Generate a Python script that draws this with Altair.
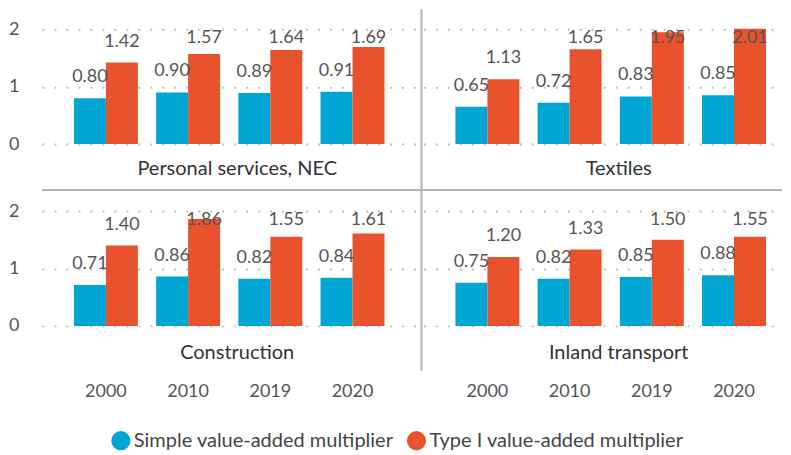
import altair as alt
import pandas as pd

years = ["2000", "2010", "2019", "2020"]
panels = ["Personal services, NEC", "Textiles", "Construction", "Inland transport"]
series = ["Simple value-added multiplier", "Type I value-added multiplier"]
simple_vals = {
    "Personal services, NEC": [0.80, 0.90, 0.89, 0.91],
    "Textiles": [0.65, 0.72, 0.83, 0.85],
    "Construction": [0.71, 0.86, 0.82, 0.84],
    "Inland transport": [0.75, 0.82, 0.85, 0.88],
}
type1_vals = {
    "Personal services, NEC": [1.42, 1.57, 1.64, 1.69],
    "Textiles": [1.13, 1.65, 1.95, 2.01],
    "Construction": [1.40, 1.86, 1.55, 1.61],
    "Inland transport": [1.20, 1.33, 1.50, 1.55],
}

rows = []
for p in panels:
    for i, yr in enumerate(years):
        rows.append({"panel": p, "year": yr, "series": series[0], "value": simple_vals[p][i]})
        rows.append({"panel": p, "year": yr, "series": series[1], "value": type1_vals[p][i]})
df = pd.DataFrame(rows)

FONT = "Lato"
BLUE = "#00a6d3"
RED = "#e8522c"
GRID = "#bfbfbf"
SEP = "#b3b3b3"
TXT = "#555555"
H = 135
YMAX = 2.348
LEFT_W = 375
RIGHT_W = 359

one = pd.DataFrame({"k": [0]})


def panel(name, col, row):
    W = LEFT_W if col == 0 else RIGHT_W
    if col == 0:
        xscale = alt.Scale(domain=years, paddingInner=0.222, paddingOuter=0.389)
    else:
        xscale = alt.Scale(domain=years, paddingInner=0.222, paddingOuter=0.292, align=0.666)
    if row == 1:
        xaxis = alt.Axis(title=None, labelAngle=0, domain=False, ticks=False, tickSize=0,
                         labelPadding=57, labelFontSize=18, labelColor=TXT, labelFont=FONT)
    else:
        xaxis = None
    if col == 0:
        yaxis = alt.Axis(values=[0, 1, 2], title=None, domain=False, ticks=False, tickSize=0,
                         labelPadding=23, labelFontSize=18, labelColor=TXT, labelFont=FONT,
                         grid=True, gridDash=[2, 10], gridWidth=2, gridColor=GRID, format="d")
    else:
        yaxis = alt.Axis(values=[0, 1, 2], title=None, domain=False, ticks=False, tickSize=0,
                         labels=False, grid=True, gridDash=[2, 10], gridWidth=2, gridColor=GRID)
    yscale = alt.Scale(domain=[0, YMAX], nice=False, zero=True)
    oscale = alt.Scale(domain=series, paddingInner=0, paddingOuter=0)

    base = alt.Chart(df).transform_filter(alt.datum.panel == name)
    bars = base.mark_bar().encode(
        x=alt.X("year:N", scale=xscale, axis=xaxis, sort=years),
        xOffset=alt.XOffset("series:N", scale=oscale, sort=series),
        y=alt.Y("value:Q", scale=yscale, axis=yaxis),
        color=alt.Color(
            "series:N",
            scale=alt.Scale(domain=series, range=[BLUE, RED]),
            legend=alt.Legend(
                title=None, orient="none", legendX=69, legendY=422, direction="horizontal",
                symbolType="circle", symbolSize=370, symbolOpacity=1, symbolStrokeWidth=0,
                labelFontSize=20, labelFont=FONT, labelColor="#444444", labelLimit=400,
                columnPadding=13, labelOffset=3, padding=0,
            ),
        ),
    )
    labels = base.transform_calculate(
        ly="min(datum.value + 0.365, 1.843)"
    ).mark_text(baseline="middle", fontSize=18, color=TXT, font=FONT).encode(
        x=alt.X("year:N", scale=xscale, axis=xaxis, sort=years),
        xOffset=alt.XOffset("series:N", scale=oscale, sort=series),
        y=alt.Y("ly:Q", scale=yscale, axis=yaxis),
        text=alt.Text("value:Q", format=".2f"),
    )
    title = alt.Chart(pd.DataFrame({"t": [name]})).mark_text(
        fontSize=20, font=FONT, color="#333333", baseline="middle"
    ).encode(x=alt.value(195.5), y=alt.value(160 if row == 0 else 162), text="t:N")
    layers = [bars, labels, title]
    if col == 0 and row == 0:
        hsep = alt.Chart(one).mark_rule(color=SEP, strokeWidth=2).encode(
            x=alt.value(0), x2=alt.value(LEFT_W + 7 + RIGHT_W), y=alt.value(181))
        vsep = alt.Chart(one).mark_rule(color=SEP, strokeWidth=2).encode(
            x=alt.value(380), y=alt.value(0), y2=alt.value(362))
        layers = [hsep, vsep] + layers
    return alt.layer(*layers).properties(width=W, height=H)


chart = alt.concat(
    panel(panels[0], 0, 0), panel(panels[1], 1, 0),
    panel(panels[2], 0, 1), panel(panels[3], 1, 1),
    columns=2, spacing={"row": 47, "column": 7}, bounds="flush",
).properties(padding=0).configure_view(stroke=None)

chart.save("out.html", embed_options={"renderer": "svg", "actions": False})
